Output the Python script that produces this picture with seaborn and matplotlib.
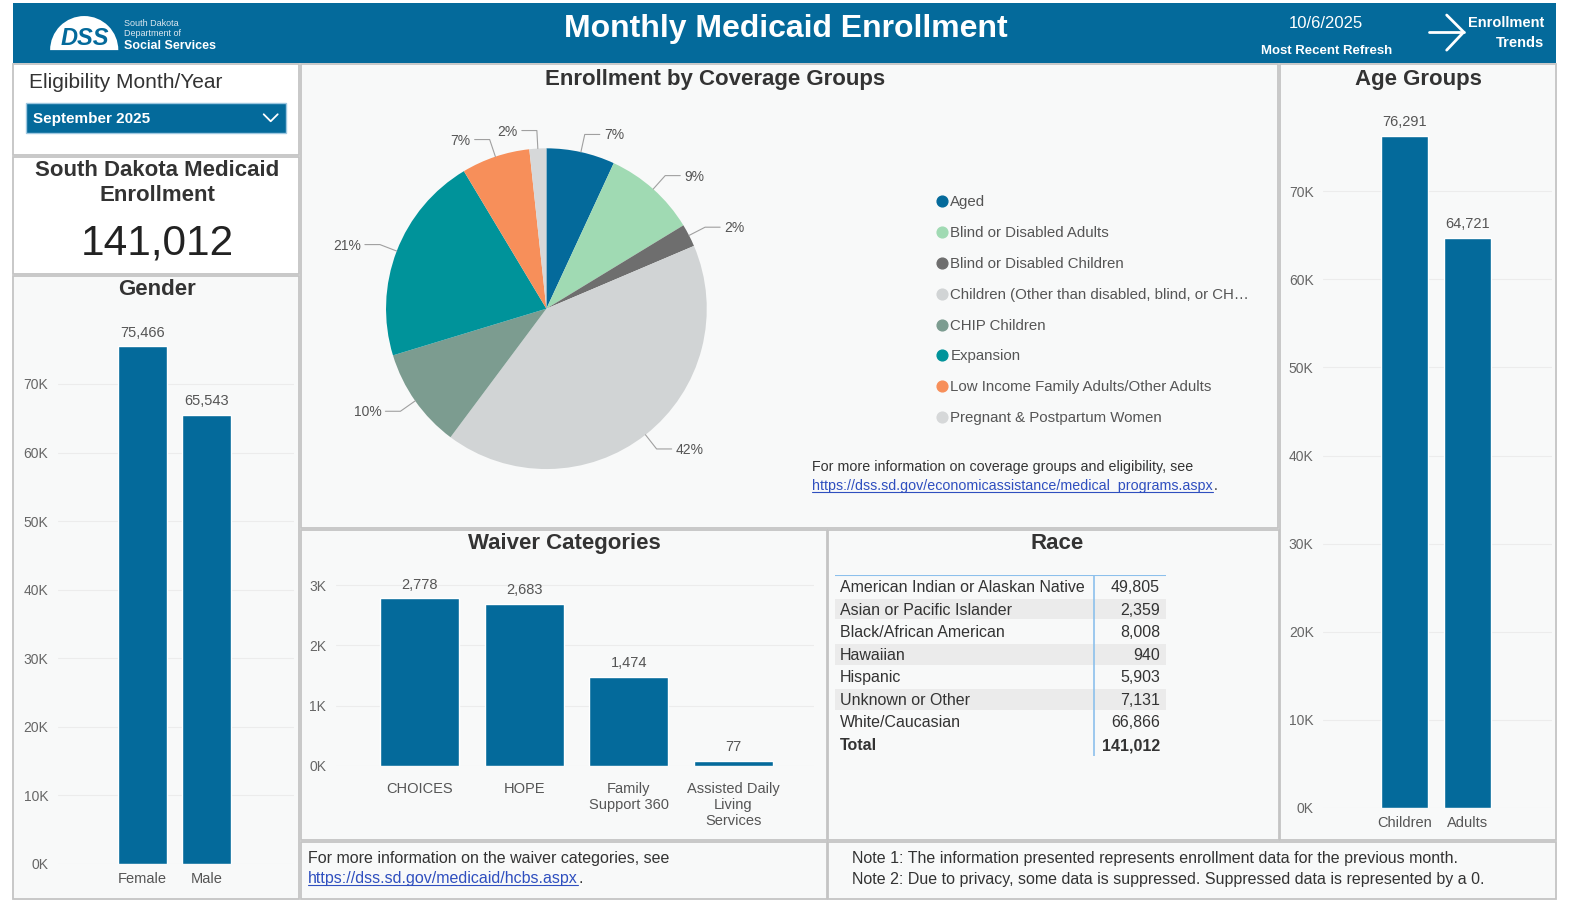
import matplotlib
matplotlib.use("Agg")
import matplotlib.pyplot as plt
from matplotlib.patches import Rectangle, Wedge
import numpy as np
import pandas as pd
import seaborn as sns

# ---- data ----
gender = ["Female", "Male"]
gender_counts = [75466, 65543]

age_groups = ["Children", "Adults"]
age_counts = [76291, 64721]

waiver_cats = ["CHOICES", "HOPE", "Family\nSupport 360", "Assisted Daily\nLiving\nServices"]
waiver_counts = [2778, 2683, 1474, 77]

coverage_groups = ["Aged", "Blind or Disabled Adults", "Blind or Disabled Children",
                   "Children (Other than disabled, blind, or CH\u2026", "CHIP Children", "Expansion",
                   "Low Income Family Adults/Other Adults", "Pregnant & Postpartum Women"]
coverage_pct = [6.9, 9.4, 2.3, 41.6, 10.1, 21.1, 6.9, 1.7]
coverage_colors = ["#046A9B", "#A0DAB3", "#6E6E6E", "#D1D4D5",
                   "#7C9C90", "#00939A", "#F78F5A", "#D6D8D9"]

race_groups = ["American Indian or Alaskan Native", "Asian or Pacific Islander",
               "Black/African American", "Hawaiian", "Hispanic",
               "Unknown or Other", "White/Caucasian"]
race_counts = [49805, 2359, 8008, 940, 5903, 7131, 66866]
total_enrollment = 141012

BLUE = "#046A9B"
# layout coordinates below are in the 1568x898 preview space
W, H = 1568, 898

sns.set_theme(style="white")
plt.rcParams["font.family"] = ["Liberation Sans", "DejaVu Sans"]

fig = plt.figure(figsize=(15.72, 9.0), dpi=100)
fig.patch.set_facecolor("white")


def box(x0, y0, x1, y1):
    return [x0 / W, 1 - y1 / H, (x1 - x0) / W, (y1 - y0) / H]


canvas = fig.add_axes([0, 0, 1, 1])
canvas.set_xlim(0, W)
canvas.set_ylim(H, 0)
canvas.axis("off")


def panel(x0, y0, x1, y1, face="#F8F9F9"):
    canvas.add_patch(Rectangle((x0, y0), x1 - x0, y1 - y0, facecolor=face,
                               edgecolor="#C4C4C4", lw=1.3, zorder=0))


def txt(x, y, s, size=10, color="#333333", ha="left", va="center", **kw):
    if va == "center":
        y = y + 2
    return canvas.text(x, y, s, fontsize=size, color=color, ha=ha, va=va, **kw)


# ---- header ----
canvas.add_patch(Rectangle((13, 3), 1539, 60, facecolor=BLUE, edgecolor="none"))
canvas.add_patch(Wedge((84, 50), 34, 180, 360, facecolor="white", edgecolor="none"))
txt(85, 36, "DSS", 17, BLUE, ha="center", weight="bold", style="italic")
txt(124, 21, "South Dakota", 6.5, "#DDE8F0")
txt(124, 31, "Department of", 6.5, "#DDE8F0")
txt(124, 44, "Social Services", 9, "white", weight="bold")
txt(784, 27, "Monthly Medicaid Enrollment", 23, "white", ha="center", weight="bold")
txt(1323, 21, "10/6/2025", 12, "white", ha="center")
txt(1323, 49, "Most Recent Refresh", 9.5, "white", ha="center", weight="bold")
canvas.plot([1425, 1460], [32, 32], color="white", lw=2)
canvas.plot([1443, 1460, 1443], [15, 32, 50], color="white", lw=2)
txt(1540, 21, "Enrollment", 10.5, "white", ha="right", weight="bold")
txt(1540, 41, "Trends", 10.5, "white", ha="right", weight="bold")

# ---- panels ----
panel(13, 64, 298, 155, face="white")
panel(13, 157, 298, 273, face="white")
panel(13, 275, 298, 897)
panel(300, 64, 1275, 527)
panel(1277, 64, 1552, 838)
panel(300, 529, 825, 838)
panel(826, 529, 1276, 838)
panel(300, 840, 825, 897)
panel(826, 840, 1552, 897)

# eligibility selector
txt(29, 80, "Eligibility Month/Year", 15, "#333333")
canvas.add_patch(Rectangle((26, 103), 259, 30, facecolor=BLUE, edgecolor="#9EC7E0", lw=1))
txt(33, 117, "September 2025", 11, "white", weight="bold")
canvas.plot([263, 270, 277], [114, 121, 114], color="white", lw=1.3)

# total enrollment
txt(157, 181, "South Dakota Medicaid\nEnrollment", 16, "#333333", ha="center",
    weight="bold", linespacing=1.25)
txt(157, 241, f"{total_enrollment:,}", 30.5, "#222222", ha="center")

# titles
txt(157, 287, "Gender", 16, "#333333", ha="center", weight="bold")
txt(713, 77, "Enrollment by Coverage Groups", 16, "#333333", ha="center", weight="bold")
txt(1415, 77, "Age Groups", 16, "#333333", ha="center", weight="bold")
txt(563, 540, "Waiver Categories", 16, "#333333", ha="center", weight="bold")
txt(1054, 540, "Race", 16, "#333333", ha="center", weight="bold")


# ---- bar charts ----
def bar_chart(rect, cats, vals, ymax, ticks, xlim, width, xpad):
    ax = fig.add_axes(box(*rect))
    df = pd.DataFrame({"cat": cats, "val": vals})
    sns.barplot(data=df, x="cat", y="val", color=BLUE, saturation=1, width=width,
                errorbar=None, ax=ax)
    ax.set_facecolor("none")
    ax.set_xlim(*xlim)
    ax.set_ylim(0, ymax)
    ax.set_yticks(ticks)
    ax.set_yticklabels([f"{t / 1000:.0f}K" for t in ticks])
    ax.set_xlabel("")
    ax.set_ylabel("")
    for s in ax.spines.values():
        s.set_visible(False)
    ax.set_axisbelow(True)
    ax.yaxis.grid(True, color="#ECECEC", lw=0.8)
    ax.xaxis.grid(False)
    ax.tick_params(axis="y", length=0, pad=7, labelsize=10, labelcolor="#666666")
    ax.tick_params(axis="x", length=0, pad=xpad, labelsize=10.5, labelcolor="#555555")
    ax.bar_label(ax.containers[0], labels=[f"{v:,}" for v in vals], padding=5,
                 fontsize=10.5, color="#555555")
    return ax


bar_chart((58, 301, 293, 862), gender, gender_counts, 82000,
          np.arange(0, 70001, 10000), (-1.31, 2.36), 0.77, 5.5)
bar_chart((1320, 103, 1548, 806), age_groups, age_counts, 80000,
          np.arange(0, 70001, 10000), (-1.286, 2.33), 0.746, 6)
bar_chart((335, 570, 812, 764), waiver_cats, waiver_counts, 3230,
          np.arange(0, 3001, 1000), (-0.80, 3.77), 0.757, 11.5)

# ---- pie ----
pax = fig.add_axes(box(295, 108, 795, 508))
R = 160
pax.pie(coverage_pct, colors=coverage_colors, radius=R, startangle=90,
        counterclock=False, wedgeprops=dict(linewidth=0))
pax.set_xlim(-250, 250)
pax.set_ylim(-200, 200)
pax.set_aspect("equal")
pax.axis("off")
cum = np.cumsum(coverage_pct) - np.array(coverage_pct) / 2
for pct, mid in zip(coverage_pct, cum):
    ang = np.deg2rad(90 - 360 * mid / 100)
    c, s = np.cos(ang), np.sin(ang)
    p1 = (R * c, R * s)
    p2 = ((R + 18) * c, (R + 18) * s)
    side = 1 if c >= 0 else -1
    p3 = (p2[0] + side * 15, p2[1])
    pax.plot([p1[0], p2[0], p3[0]], [p1[1], p2[1], p3[1]], color="#A0A0A0", lw=0.8)
    pax.text(p3[0] + side * 4, p3[1] - 1, f"{pct:.0f}%", ha="left" if side > 0 else "right",
             va="center", fontsize=10, color="#555555")

# legend
for i, (name, col) in enumerate(zip(coverage_groups, coverage_colors)):
    y = 201 + i * 30.7
    canvas.scatter([940], [y], s=60, color=col, zorder=3)
    txt(948, y - 1, name, 10.8, "#555555")

txt(810, 464, "For more information on coverage groups and eligibility, see", 10.3, "#333333")

# ---- race table ----
tax = fig.add_axes(box(833, 574, 1163, 754))
tax.set_xlim(0, 330)
tax.set_ylim(len(race_groups) + 1, 0)
tax.axis("off")
rows = race_groups + ["Total"]
vals = race_counts + [total_enrollment]
for i, (name, v) in enumerate(zip(rows, vals)):
    if i % 2 == 1 and i < len(race_groups):
        tax.axhspan(i + 0.04, i + 0.96, xmin=0, xmax=1, color="#EBEBEB", lw=0)
    bold = "bold" if name == "Total" else "normal"
    tax.text(5, i + 0.55, name, va="center", ha="left", fontsize=11.5, color="#333333", weight=bold)
    tax.text(324, i + 0.55, f"{v:,}", va="center", ha="right", fontsize=11.5, color="#333333",
             weight=bold)
tax.axhline(0, color="#8CC0EC", lw=1.5)
tax.plot([258, 258], [0, len(rows)], color="#8CC0EC", lw=1.2)

# ---- bottom notes ----
txt(307, 855, "For more information on the waiver categories, see", 11.5)
txt(850, 855, "Note 1: The information presented represents enrollment data for the previous month.", 11.5)
txt(850, 876, "Note 2: Due to privacy, some data is suppressed. Suppressed data is represented by a 0.", 11.5)

# links with underline
links = [(810, 489, "https://dss.sd.gov/economicassistance/medical_programs.aspx", 10.3),
         (307, 881, "https://dss.sd.gov/medicaid/hcbs.aspx", 11.5)]
renderer = fig.canvas.get_renderer()
for x, y, url, size in links:
    t = txt(x, y, url, size, "#2F4FBF", va="baseline")
    bb = t.get_window_extent(renderer)
    x1 = bb.x1 * W / fig.bbox.width
    canvas.plot([x, x1], [y + 2, y + 2], color="#2F4FBF", lw=0.8)
    txt(x1 + 1, y, ".", size, "#333333", va="baseline")

fig.savefig("out.png", dpi=100)
